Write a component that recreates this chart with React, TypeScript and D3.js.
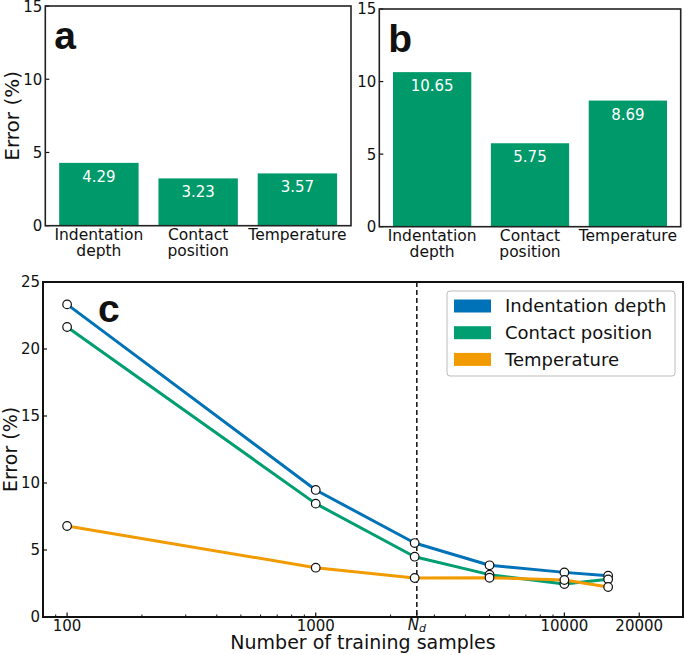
import React from "react";
import * as d3 from "d3";

const categories = ["Indentation depth", "Contact position", "Temperature"];
const categoryLines = [["Indentation", "depth"], ["Contact", "position"], ["Temperature"]];
const errorsA = [4.29, 3.23, 3.57];
const errorsB = [10.65, 5.75, 8.69];
const barTicks = [0, 5, 10, 15];

const sampleCounts = [100, 1000, 2500, 5000, 10000, 15000];
const indentationErr = [23.33, 9.48, 5.52, 3.86, 3.33, 3.08];
const contactErr = [21.64, 8.46, 4.5, 3.16, 2.46, 2.81];
const temperatureErr = [6.79, 3.68, 2.91, 2.93, 2.76, 2.24];
const lineYTicks = [0, 5, 10, 15, 20, 25];
const ndValue = 2550;
const xMajorTicks = [100, 1000, ndValue, 10000, 20000];
const xMajorLabels = ["100", "1000", "Nd", "10000", "20000"];
const xMinorTicks = [90, 200, 300, 400, 500, 600, 700, 800, 900, 2000, 3000, 4000, 5000, 6000, 7000, 8000, 9000, 30000];

const FONT = "DejaVu Sans, sans-serif";
const BOLD = "Liberation Sans, Arial, sans-serif";
const BAR_COLOR = "#009A6A";
const seriesNames = ["Indentation depth", "Contact position", "Temperature"];
const seriesColors = ["#0072B8", "#009E70", "#F29B00"];
const seriesValues = [indentationErr, contactErr, temperatureErr];

type BarProps = {
  x0: number; x1: number; y0: number; y1: number; values: number[]; letter: string; yLabel?: boolean;
};

function BarPanel({ x0, x1, y0, y1, values, letter, yLabel }: BarProps) {
  const x = d3.scaleBand<string>().domain(categories).range([x0, x1]).paddingInner(0.2).paddingOuter(0.14);
  const y = d3.scaleLinear().domain([0, 15]).range([y1, y0]);
  return (
    <g>
      {values.map((v, i) => (
        <g key={i}>
          <rect x={x(categories[i])} y={y(v)} width={x.bandwidth()} height={y(0) - y(v)} fill={BAR_COLOR} />
          <text x={(x(categories[i]) as number) + x.bandwidth() / 2} y={y(v) + 19} fill="white" fontFamily={FONT} fontSize={15} textAnchor="middle">
            {v.toFixed(2)}
          </text>
          {categoryLines[i].map((ln, j) => (
            <text key={j} x={(x(categories[i]) as number) + x.bandwidth() / 2} y={y1 + 14 + j * 16} fill="#111" fontFamily={FONT} fontSize={15.5} textAnchor="middle">
              {ln}
            </text>
          ))}
        </g>
      ))}
      {barTicks.map((t) => (
        <g key={t}>
          <line x1={x0} x2={x0 + 4} y1={y(t)} y2={y(t)} stroke="#111" strokeWidth={1.2} />
          <text x={x0 - 3} y={Math.max(y(t), 7)} dy="0.36em" fontFamily={FONT} fontSize={15} textAnchor="end" fill="#111">{t}</text>
        </g>
      ))}
      <rect x={x0} y={y0} width={x1 - x0} height={y1 - y0} fill="none" stroke="#222" strokeWidth={1.6} />
      <text x={x0 + 9} y={y0 + 43} fontFamily={BOLD} fontWeight="bold" fontSize={39} fill="#111">{letter}</text>
      {yLabel && (
        <text transform={`translate(12,${(y0 + y1) / 2}) rotate(-90)`} dy="0.35em" textAnchor="middle" fontFamily={FONT} fontSize={20} fill="#111">Error (%)</text>
      )}
    </g>
  );
}

function LinePanel() {
  const x0 = 43, x1 = 683, y0 = 282, y1 = 617;
  const x = d3.scaleLog().domain([80, 30000]).range([x0, x1]);
  const y = d3.scaleLinear().domain([0, 25]).range([y1, y0]);
  const line = d3.line<[number, number]>().x((d) => x(d[0])).y((d) => y(d[1]));
  const legendX = 447, legendY = 291, legendW = 228, legendH = 85;
  return (
    <g>
      {seriesValues.map((vals, s) => (
        <path key={s} d={line(sampleCounts.map((c, i) => [c, vals[i]] as [number, number])) as string} fill="none" stroke={seriesColors[s]} strokeWidth={3} strokeLinejoin="round" />
      ))}
      <line x1={x(ndValue)} x2={x(ndValue)} y1={y0} y2={y1} stroke="#111" strokeWidth={1.5} strokeDasharray="5,3" />
      {seriesValues.map((vals, s) => (
        <g key={s}>
          {sampleCounts.map((c, i) => (
            <circle key={i} cx={x(c)} cy={y(vals[i])} r={4.3} fill="white" stroke="#111" strokeWidth={1.2} />
          ))}
        </g>
      ))}
      {lineYTicks.map((t) => (
        <g key={t}>
          <line x1={x0} x2={x0 + 4} y1={y(t)} y2={y(t)} stroke="#111" strokeWidth={1.2} />
          <text x={x0 - 3} y={y(t)} dy="0.36em" fontFamily={FONT} fontSize={15} textAnchor="end" fill="#111">{t}</text>
        </g>
      ))}
      {xMinorTicks.map((t) => (
        <line key={t} x1={x(t)} x2={x(t)} y1={y1} y2={y1 - 2.5} stroke="#111" strokeWidth={1} />
      ))}
      {xMajorTicks.map((t, i) => (
        <g key={t}>
          <line x1={x(t)} x2={x(t)} y1={y1} y2={y1 - 4.5} stroke="#111" strokeWidth={1.2} />
          {xMajorLabels[i] === "Nd" ? (
            <text x={x(t)} y={y1 + 12.5} textAnchor="middle" fontFamily={FONT} fontSize={15} fill="#111">
              <tspan fontStyle="italic">N</tspan>
              <tspan fontStyle="italic" fontSize={11} dy={2.5}>d</tspan>
            </text>
          ) : (
            <text x={x(t)} y={y1 + 13.5} textAnchor="middle" fontFamily={FONT} fontSize={15} fill="#111">{xMajorLabels[i]}</text>
          )}
        </g>
      ))}
      <rect x={x0} y={y0} width={x1 - x0} height={y1 - y0} fill="none" stroke="#111" strokeWidth={2} />
      <text x={98} y={322} fontFamily={BOLD} fontWeight="bold" fontSize={39} fill="#111">c</text>
      <text transform={`translate(10,${(y0 + y1) / 2}) rotate(-90)`} dy="0.35em" textAnchor="middle" fontFamily={FONT} fontSize={19} fill="#111">Error (%)</text>
      <text x={(x0 + x1) / 2} y={649} textAnchor="middle" fontFamily={FONT} fontSize={19} fill="#111">Number of training samples</text>
      <rect x={legendX} y={legendY} width={legendW} height={legendH} rx={3} fill="white" fillOpacity={0.85} stroke="#bbb" strokeWidth={1} />
      {seriesNames.map((n, i) => {
        const cy = legendY + 15 + i * 26.7;
        return (
          <g key={n}>
            <rect x={legendX + 7} y={cy - 6.5} width={37} height={13} fill={seriesColors[i]} />
            <text x={legendX + 58} y={cy} dy="0.36em" fontFamily={FONT} fontSize={18} fill="#111">{n}</text>
          </g>
        );
      })}
    </g>
  );
}

export default function App() {
  return (
    <svg width={685} height={655} style={{ position: "absolute", left: 0, top: 0, background: "white" }}>
      <rect width={685} height={655} fill="white" />
      <BarPanel x0={45.3} x1={351} y0={6} y1={225.7} values={errorsA} letter="a" yLabel />
      <BarPanel x0={379.3} x1={680.7} y0={9} y1={226.7} values={errorsB} letter="b" />
      <LinePanel />
    </svg>
  );
}
